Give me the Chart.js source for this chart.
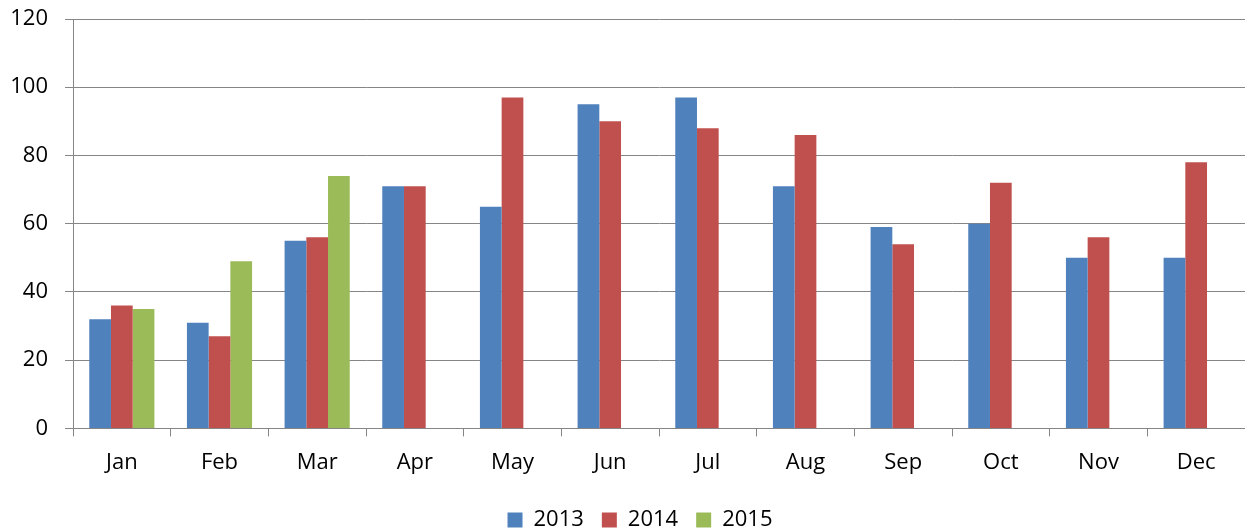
<!DOCTYPE html>
<html lang="en">
<head>
    <meta charset="UTF-8">
    <title>Monthly Values 2013-2015</title>
    <script src="https://cdn.jsdelivr.net/npm/chart.js"></script>
    <style>
        html, body { margin: 0; padding: 0; background: #fff; overflow: hidden; }
        #wrap { width: 1245px; height: 531px; }
    </style>
</head>
<body>
    <div id="wrap"><canvas id="myChart"></canvas></div>

    <script>
        // chart data
        const months = ['Jan', 'Feb', 'Mar', 'Apr', 'May', 'Jun', 'Jul', 'Aug', 'Sep', 'Oct', 'Nov', 'Dec'];
        const values2013 = [32, 31, 55, 71, 65, 95, 97, 71, 59, 60, 50, 50];
        const values2014 = [36, 27, 56, 71, 97, 90, 88, 86, 54, 72, 56, 78];
        const values2015 = [35, 49, 74, null, null, null, null, null, null, null, null, null];

        const gridGray = '#868686';
        const font = { family: '"Open Sans", sans-serif', size: 22 };

        // move the legend a bit (Excel doesn't center it exactly)
        const legendShift = {
            id: 'legendShift',
            afterLayout(chart) {
                const lg = chart.legend;
                lg.left += 15; lg.right += 15;
                lg.top += 10; lg.bottom += 10;
            }
        };

        const data = {
            labels: months,
            datasets: [
                { label: '2013', data: values2013, backgroundColor: '#4F81BD' },
                { label: '2014', data: values2014, backgroundColor: '#C0504D' },
                { label: '2015', data: values2015, backgroundColor: '#9BBB59' }
            ]
        };

        const config = {
            type: 'bar',
            data: data,
            plugins: [legendShift],
            options: {
                responsive: true,
                maintainAspectRatio: false,
                animation: false,
                categoryPercentage: 0.667,
                barPercentage: 1.0,
                layout: { padding: { left: 0, right: -5, top: 19, bottom: 0 } },
                plugins: {
                    tooltip: { enabled: false },
                    legend: {
                        position: 'bottom',
                        labels: {
                            color: '#000',
                            font: font,
                            boxWidth: 15,
                            boxHeight: 15,
                            padding: 18
                        }
                    }
                },
                scales: {
                    x: {
                        grid: {
                            display: true,
                            drawOnChartArea: false,
                            drawTicks: true,
                            tickLength: 8,
                            color: gridGray,
                            offset: true
                        },
                        border: { color: gridGray, width: 1 },
                        ticks: { color: '#000', font: font, padding: 13, maxRotation: 0 },
                        afterFit(scale) {
                            scale.height = 52.6;
                            scale.paddingLeft = 0;
                            scale.paddingRight = 0;
                        }
                    },
                    y: {
                        min: 0,
                        max: 120,
                        grid: { color: gridGray, tickLength: 8, lineWidth: 1 },
                        border: { color: gridGray, width: 1 },
                        ticks: { stepSize: 20, color: '#000', font: font, padding: 17 },
                        afterFit(scale) {
                            scale.width = 73;
                            scale.paddingTop = 0;
                            scale.paddingBottom = 0;
                        }
                    }
                }
            }
        };

        const myChart = new Chart(document.getElementById('myChart'), config);
    </script>
</body>
</html>
